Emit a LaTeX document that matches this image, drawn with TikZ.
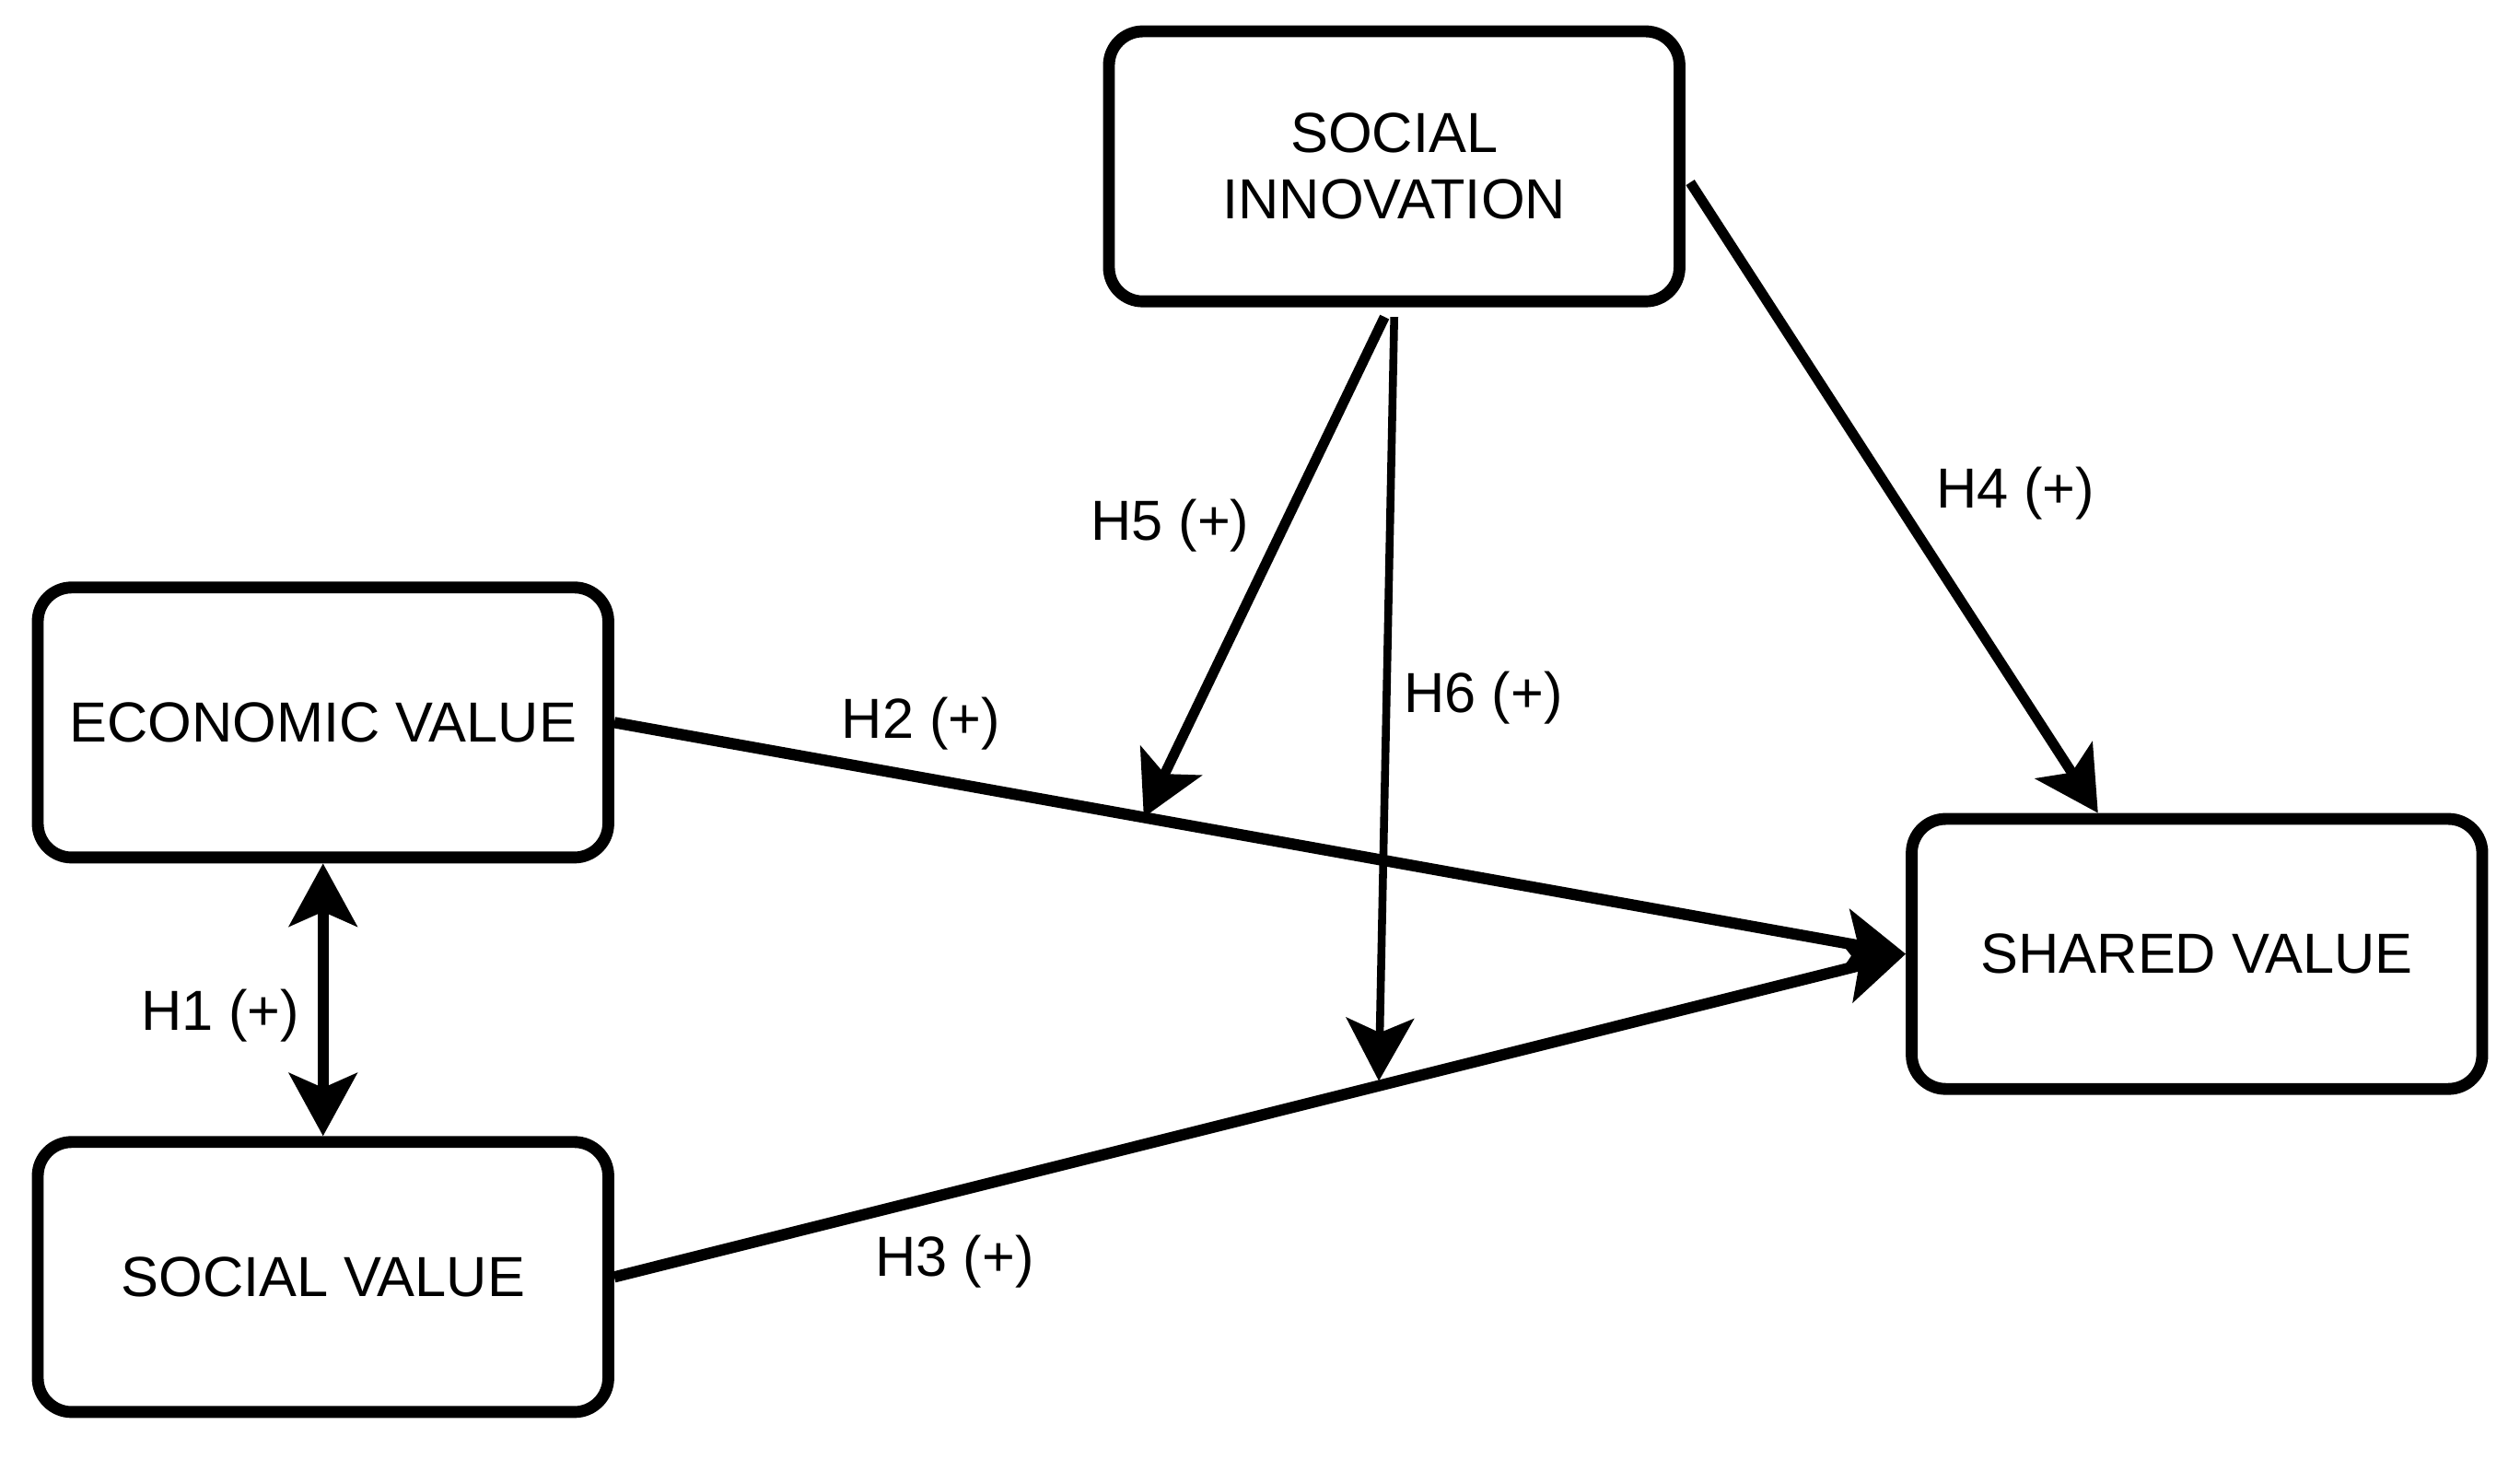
\documentclass[tikz,border=0pt]{standalone}
\usepackage{fontspec}
\setmainfont{Liberation Sans}
\usepackage{tikz}
\usetikzlibrary{positioning,arrows.meta,calc}

\begin{document}
\begin{tikzpicture}[
  font=\fontsize{10}{11.7}\selectfont,
  >={Stealth[length=3.9mm,width=4.2mm,inset=0.9mm]},
  cbox/.style={draw=black, line width=2.1pt, fill=white, rounded corners=6pt,
               align=center, minimum width=35.5mm, minimum height=16.8mm, inner sep=2pt},
  hyp/.style={->, draw=black, line width=2pt},
  hypS/.style={->, draw=black, line width=1.8pt},
  hypT/.style={->, draw=black, line width=1.4pt},
  hypB/.style={<->, draw=black, line width=2pt},
  tag/.style={inner sep=1pt}
]
\useasboundingbox (0,0) rectangle (15.68,9.08);

% ==== constructs
\node[cbox] (si) at (8.675,8.045) {SOCIAL\\INNOVATION};
\node[cbox] (ev) at (2.01,4.585)  {ECONOMIC VALUE};
\node[cbox] (sv) at (2.01,1.135)  {SOCIAL VALUE};
\node[cbox] (sh) at (13.67,3.145) {SHARED VALUE};

% ==== points where the moderating paths land
\coordinate (m5) at ($(ev.east)!0.41!(sh.west)$);
\coordinate (m6) at ($(sv.east)!0.592!(sh.west)$);
\coordinate (s5) at ($(si.south)+(-0.06,-0.06)$);
\coordinate (s6) at ($(si.south)+(0,-0.06)$);
\coordinate (s4) at ($(si.east)+(0.03,-0.1)$);
\coordinate (e4) at ($(sh.north west)!0.33!(sh.north east)$);

% ==== direct paths
\draw[hypB] (ev) -- (sv);
\draw[hyp] (ev.east) -- (sh.west);
\draw[hyp] (sv.east) -- (sh.west);
\draw[hypS] (s4) -- (e4);

% ==== moderation
\draw[hypS] (s5) -- (m5);
\draw[hypT] (s6) -- ($(m6)+(0,0.03)$);

% ==== hypothesis tags
\node[tag] (t1) at (1.37,2.76)  {H1 (+)};
\node[tag] (t2) at (5.73,4.58)  {H2 (+)};
\node[tag] (t3) at (5.94,1.23)  {H3 (+)};
\node[tag] (t4) at (12.54,6.01) {H4 (+)};
\node[tag] (t5) at (7.28,5.81)  {H5 (+)};
\node[tag] (t6) at (9.23,4.74)  {H6 (+)};

\end{tikzpicture}
\end{document}
